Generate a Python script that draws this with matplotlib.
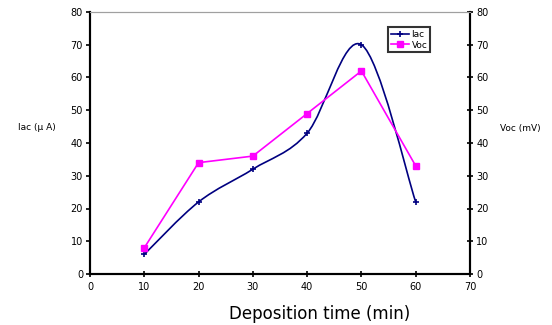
# Iac / Voc against deposition time
import numpy as np
import matplotlib.pyplot as plt
from matplotlib.path import Path
from matplotlib.patches import PathPatch

time_min = [10, 20, 30, 40, 50, 60]
iac_uA = [6, 22, 32, 43, 70, 22]
voc_mV = [8, 34, 36, 49, 62, 33]
x_ticks = [0, 10, 20, 30, 40, 50, 60, 70]
y_ticks = [0, 10, 20, 30, 40, 50, 60, 70, 80]

NAVY = '#000080'
MAGENTA = '#ff00ff'


# Excel style smoothed line: Bezier segments through the data points
def smooth_path(xs, ys):
    p = np.column_stack([xs, ys]).astype(float)
    n = len(p)
    verts = [p[0]]
    codes = [Path.MOVETO]
    for i in range(n - 1):
        p0 = p[i - 1] if i > 0 else p[i]
        p1, p2 = p[i], p[i + 1]
        p3 = p[i + 2] if i + 2 < n else p[i + 1]
        c1 = p1 + (p2 - p0) / 6.0
        c2 = p2 - (p3 - p1) / 6.0
        verts += [c1, c2, p2]
        codes += [Path.CURVE4] * 3
    return Path(verts, codes)


fig = plt.figure(figsize=(5.52, 3.25), dpi=100)
ax = fig.add_axes([90 / 552, 1 - 274 / 325, 380 / 552, 262 / 325])

ax.add_patch(PathPatch(smooth_path(time_min, iac_uA), fill=False,
                       edgecolor=NAVY, lw=1.2))
ax.plot(time_min, iac_uA, ls='none', marker='+', ms=5, mew=1.2,
        color=NAVY)

ax2 = ax.twinx()
ax2.plot(time_min, voc_mV, color=MAGENTA, lw=1.2, marker='s', ms=4)

for a in (ax, ax2):
    a.set_xlim(0, 70)
    a.set_ylim(0, 80)
    a.set_yticks(y_ticks)
ax.set_xticks(x_ticks)

ax.tick_params(axis='y', direction='out', length=3, width=1.2,
               labelsize=7, pad=2)
ax.tick_params(axis='x', direction='inout', length=4, width=1.2,
               labelsize=7, pad=4)
ax2.tick_params(axis='y', direction='inout', length=5, width=1.2,
                labelsize=7, pad=2)

for a in (ax, ax2):
    a.spines['top'].set_color('#a0a0a0')
    a.spines['left'].set_linewidth(1.5)
    a.spines['bottom'].set_linewidth(1.5)
    a.spines['right'].set_linewidth(1.5)

# axis titles placed like the original (horizontal, beside the axes)
fig.text(37 / 552, 1 - 128 / 325, 'Iac (µ A)', fontsize=6.5,
         ha='center', va='center')
fig.text(520 / 552, 1 - 128 / 325, 'Voc (mV)', fontsize=6.5,
         ha='center', va='center')
fig.text(320 / 552, 1 - 319 / 325, 'Deposition time (min)', fontsize=12,
         ha='center', va='baseline')

# legend entries
h1, = ax.plot([], [], color=NAVY, lw=1.2, marker='+', ms=5, mew=1.2)
h2, = ax.plot([], [], color=MAGENTA, lw=1.2, marker='s', ms=4)
leg = ax2.legend([h1, h2], ['Iac', 'Voc'], loc='upper left',
                 bbox_to_anchor=(298 / 380, 1 - 15 / 262), fontsize=6.5,
                 frameon=True, fancybox=False, borderpad=0.3,
                 handlelength=2.0, handletextpad=0.3, labelspacing=0.2,
                 borderaxespad=0)
leg.get_frame().set_edgecolor('black')
leg.get_frame().set_linewidth(1.5)

fig.savefig('out.png', dpi=100)
